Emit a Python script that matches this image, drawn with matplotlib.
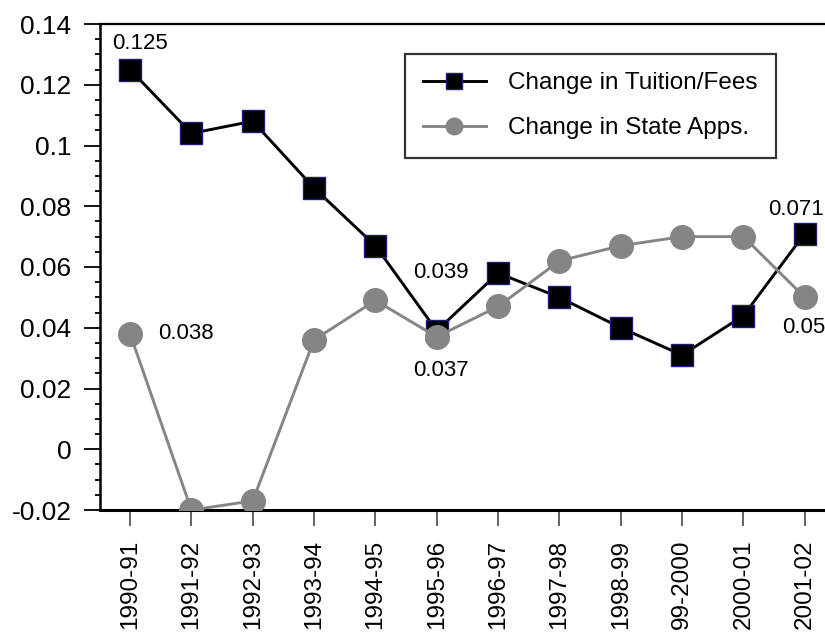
import matplotlib
matplotlib.use("Agg")
import matplotlib.pyplot as plt
from matplotlib.ticker import MultipleLocator

plt.rcParams['font.family'] = ['Liberation Sans', 'DejaVu Sans']

years = ["1990-91", "1991-92", "1992-93", "1993-94", "1994-95", "1995-96",
         "1996-97", "1997-98", "1998-99", "99-2000", "2000-01", "2001-02"]
tuition = [0.125, 0.104, 0.108, 0.086, 0.067, 0.039, 0.058, 0.050, 0.040, 0.031, 0.044, 0.071]
state_apps = [0.038, -0.020, -0.017, 0.036, 0.049, 0.037, 0.047, 0.062, 0.067, 0.070, 0.070, 0.050]

# labelled points: index -> offset of the label in points
tuition_labels = {0: (7, 19), 5: (3, 42), 11: (-6, 17)}
state_labels = {0: (40, 0), 5: (3, -24), 11: (-1, -22)}

fig = plt.figure(figsize=(8.25, 6.32), dpi=100)
ax = fig.add_axes([100 / 825, 1 - 510 / 632, 725 / 825, 486 / 632])

x = list(range(len(years)))
ax.plot(x, tuition, color='black', lw=2.1, marker='s', markersize=16,
        markerfacecolor='black', markeredgecolor='#1c1c7a', markeredgewidth=1,
        label='Change in Tuition/Fees', zorder=3)
ax.plot(x, state_apps, color='#858585', lw=2.1, marker='o', markersize=17,
        markerfacecolor='#858585', markeredgecolor='#858585',
        label='Change in State Apps.', zorder=4)

for i, (dx, dy) in tuition_labels.items():
    ax.annotate(f"{tuition[i]:g}", (i, tuition[i]), xytext=(dx, dy),
                textcoords='offset points', ha='center', va='center', fontsize=16)
for i, (dx, dy) in state_labels.items():
    ax.annotate(f"{state_apps[i]:g}", (i, state_apps[i]), xytext=(dx, dy),
                textcoords='offset points', ha='center', va='center', fontsize=16)

ax.set_xlim(-0.49, 11.33)
ax.set_ylim(-0.02, 0.14)
ax.set_xticks(x)
ax.set_xticklabels(years, rotation=90, fontsize=17.5)
ax.yaxis.set_major_locator(MultipleLocator(0.02))
ax.yaxis.set_minor_locator(MultipleLocator(0.005))
ax.set_yticklabels([f"{v:g}" for v in ax.get_yticks()], fontsize=19)
ax.set_ylim(-0.02, 0.14)

ax.tick_params(axis='y', which='major', length=11.5, width=1.3, pad=9)
ax.tick_params(axis='y', which='minor', length=3.6, width=1.3)
ax.tick_params(axis='x', length=11.5, width=1.3, color='#555555', pad=10)

ax.spines['right'].set_visible(False)
ax.spines['top'].set_linewidth(1.6)
ax.spines['left'].set_linewidth(1.8)
ax.spines['bottom'].set_linewidth(2.2)

leg = ax.legend(loc='upper right', bbox_to_anchor=(0.932, 0.938), borderaxespad=0,
                fancybox=False, edgecolor='black', fontsize=17.5, markerscale=0.7,
                handlelength=2.6, handletextpad=0.9, labelspacing=0.95, borderpad=0.75)
leg.get_frame().set_linewidth(1.6)

fig.savefig("out.png", dpi=100)
